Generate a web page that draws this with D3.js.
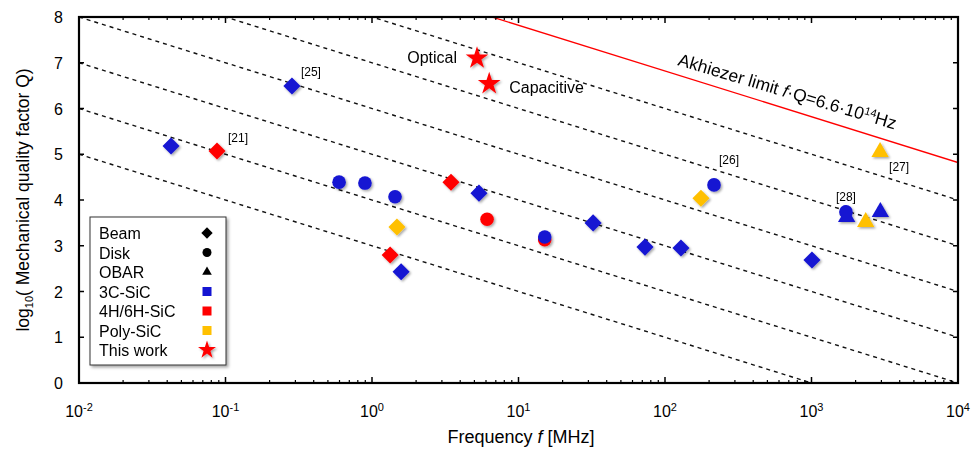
<!DOCTYPE html>
<html>
<head>
<meta charset="utf-8">
<script src="https://cdn.jsdelivr.net/npm/d3@7"></script>
<style>
  body { margin: 0; background: #fff; }
  svg { font-family: "Liberation Sans", Arial, sans-serif; }
</style>
</head>
<body>
<div id="chart"></div>
<script>
// frequency in MHz, log10(Q)
const beamF = [0.0425, 0.0875, 0.284, 3.46, 5.37, 1.48, 1.33, 1.58, 32.3, 73, 128.5, 1007, 176];
const beamQ = [5.18, 5.07, 6.49, 4.39, 4.15, 3.41, 2.80, 2.43, 3.50, 2.97, 2.95, 2.69, 4.04];
const beamC = ['3C', '4H', '3C', '4H', '3C', 'Poly', '4H', '3C', '3C', '3C', '3C', '3C', 'Poly'];

const diskF = [0.596, 0.895, 1.436, 6.1, 15.1, 15.1, 216, 1718];
const diskQ = [4.39, 4.37, 4.07, 3.58, 3.13, 3.19, 4.33, 3.74];
const diskC = ['3C', '3C', '3C', '4H', '4H', '3C', '3C', '3C'];

const obarF = [1738, 2344, 2951, 2938];
const obarQ = [3.63, 3.52, 3.74, 5.05];
const obarC = ['3C', 'Poly', '3C', 'Poly'];

const starF = [5.21, 6.31];
const starQ = [7.10, 6.54];
const starLabels = ['Optical', 'Capacitive'];

// constant f·Q lines (log10 of f·Q in MHz)
const fqLines = [3, 4, 5, 6, 7, 8];
const akhiezerFQ = 6.6e8; // MHz, = 6.6e14 Hz

const xTickExp = [-2, -1, 0, 1, 2, 3, 4];
const yTicks = [0, 1, 2, 3, 4, 5, 6, 7, 8];

const legendItems = ['Beam', 'Disk', 'OBAR', '3C-SiC', '4H/6H-SiC', 'Poly-SiC', 'This work'];

const colors = { '3C': '#1414d2', '4H': '#ff0000', 'Poly': '#ffc000' };

const width = 974, height = 450;
const margin = { left: 79, right: 16, top: 17, bottom: 67 };

const svg = d3.select('#chart').append('svg')
    .attr('width', width)
    .attr('height', height);

const defs = svg.append('defs');
const sh = defs.append('filter').attr('id', 'shadow')
    .attr('x', '-50%').attr('y', '-50%').attr('width', '200%').attr('height', '200%');
sh.append('feDropShadow').attr('dx', 1.5).attr('dy', 1.5)
    .attr('stdDeviation', 1).attr('flood-color', '#000').attr('flood-opacity', 0.35);
const sh2 = defs.append('filter').attr('id', 'boxshadow')
    .attr('x', '-20%').attr('y', '-20%').attr('width', '140%').attr('height', '140%');
sh2.append('feDropShadow').attr('dx', 2).attr('dy', 2)
    .attr('stdDeviation', 1.5).attr('flood-color', '#000').attr('flood-opacity', 0.35);

const x = d3.scaleLog().domain([1e-2, 1e4]).range([margin.left, width - margin.right]);
const y = d3.scaleLinear().domain([0, 8]).range([height - margin.bottom, margin.top]);

const x0 = x.range()[0], x1 = x.range()[1];
const y0 = y.range()[0], y1 = y.range()[1];

const clip = defs.append('clipPath').attr('id', 'plotclip');
clip.append('rect').attr('x', x0).attr('y', y1).attr('width', x1 - x0).attr('height', y0 - y1);

const plot = svg.append('g').attr('clip-path', 'url(#plotclip)');

// dashed f·Q = const lines
plot.selectAll('line.fq')
    .data(fqLines)
    .join('line')
    .classed('fq', true)
    .attr('x1', c => x(1e-2)).attr('y1', c => y(c + 2))
    .attr('x2', c => x(1e4)).attr('y2', c => y(c - 4))
    .attr('stroke', '#111')
    .attr('stroke-width', 1.4)
    .attr('stroke-dasharray', '4,4');

// Akhiezer limit
const ak = Math.log10(akhiezerFQ);
plot.append('line')
    .attr('x1', x(1e-2)).attr('y1', y(ak + 2))
    .attr('x2', x(1e4)).attr('y2', y(ak - 4))
    .attr('stroke', '#ff0000')
    .attr('stroke-width', 1.3);

// axes frame and ticks
const axes = svg.append('g');
const minor = [];
for (let e = -2; e < 4; e++) for (let m = 2; m <= 9; m++) minor.push(m * Math.pow(10, e));

axes.selectAll('line.minorB').data(minor).join('line')
    .attr('x1', d => x(d)).attr('x2', d => x(d)).attr('y1', y0).attr('y2', y0 - 3)
    .attr('stroke', '#000').attr('stroke-width', 1.2);
axes.selectAll('line.minorT').data(minor).join('line')
    .attr('x1', d => x(d)).attr('x2', d => x(d)).attr('y1', y1).attr('y2', y1 + 3)
    .attr('stroke', '#000').attr('stroke-width', 1.2);
axes.selectAll('line.majB').data(xTickExp).join('line')
    .attr('x1', d => x(Math.pow(10, d))).attr('x2', d => x(Math.pow(10, d)))
    .attr('y1', y0).attr('y2', y0 - 6)
    .attr('stroke', '#000').attr('stroke-width', 1.5);
axes.selectAll('line.majT').data(xTickExp).join('line')
    .attr('x1', d => x(Math.pow(10, d))).attr('x2', d => x(Math.pow(10, d)))
    .attr('y1', y1).attr('y2', y1 + 6)
    .attr('stroke', '#000').attr('stroke-width', 1.5);
axes.selectAll('line.yL').data(yTicks).join('line')
    .attr('x1', x0).attr('x2', x0 + 5).attr('y1', d => y(d)).attr('y2', d => y(d))
    .attr('stroke', '#000').attr('stroke-width', 1.5);
axes.selectAll('line.yR').data(yTicks).join('line')
    .attr('x1', x1).attr('x2', x1 - 5).attr('y1', d => y(d)).attr('y2', d => y(d))
    .attr('stroke', '#000').attr('stroke-width', 1.5);

axes.append('rect')
    .attr('x', x0).attr('y', y1).attr('width', x1 - x0).attr('height', y0 - y1)
    .attr('fill', 'none').attr('stroke', '#000').attr('stroke-width', 2.2);

// tick labels
axes.selectAll('text.yt').data(yTicks).join('text')
    .attr('x', x0 - 16).attr('y', d => y(d) + 6)
    .attr('text-anchor', 'end')
    .attr('font-size', 16)
    .text(d => d);

const xt = axes.selectAll('text.xt').data(xTickExp).join('text')
    .attr('x', d => x(Math.pow(10, d)))
    .attr('y', y0 + 34)
    .attr('text-anchor', 'middle')
    .attr('font-size', 16);
xt.append('tspan').text('10');
xt.append('tspan').attr('dy', -6).attr('font-size', 11).text(d => d < 0 ? '-' + (-d) : d);

// axis titles
const xl = svg.append('text')
    .attr('x', 521).attr('y', 443)
    .attr('text-anchor', 'middle').attr('font-size', 18);
xl.append('tspan').text('Frequency ');
xl.append('tspan').attr('font-style', 'italic').text('f');
xl.append('tspan').text(' [MHz]');

const yl = svg.append('text')
    .attr('transform', `translate(29,${(y0 + y1) / 2}) rotate(-90)`)
    .attr('text-anchor', 'middle').attr('font-size', 17.5);
yl.append('tspan').text('log');
yl.append('tspan').attr('font-size', 11).attr('dy', 4).text('10');
yl.append('tspan').attr('dy', -4).text('( Mechanical quality factor Q)');

// markers
const sym = (type, size) => d3.symbol().type(type).size(size)();
const marks = svg.append('g').attr('filter', 'url(#shadow)');

marks.selectAll('path.beam')
    .data(beamF.map((f, i) => ({ f, q: beamQ[i], c: beamC[i] })))
    .join('path')
    .attr('d', sym(d3.symbolSquare, 145))
    .attr('transform', d => `translate(${x(d.f)},${y(d.q)}) rotate(45)`)
    .attr('fill', d => colors[d.c]);

marks.selectAll('circle.disk')
    .data(diskF.map((f, i) => ({ f, q: diskQ[i], c: diskC[i] })))
    .join('circle')
    .attr('cx', d => x(d.f)).attr('cy', d => y(d.q)).attr('r', 6.8)
    .attr('fill', d => colors[d.c]);

marks.selectAll('path.obar')
    .data(obarF.map((f, i) => ({ f, q: obarQ[i], c: obarC[i] })))
    .join('path')
    .attr('d', sym(d3.symbolTriangle, 130))
    .attr('transform', d => `translate(${x(d.f)},${y(d.q)})`)
    .attr('fill', d => colors[d.c]);

marks.selectAll('path.star')
    .data(starF.map((f, i) => ({ f, q: starQ[i] })))
    .join('path')
    .attr('d', sym(d3.symbolStar, 160))
    .attr('transform', d => `translate(${x(d.f)},${y(d.q)})`)
    .attr('fill', '#ff0000');

// annotations
const ann = svg.append('g').attr('font-size', 16);
ann.append('text').attr('x', x(starF[0]) - 20).attr('y', y(starQ[0]) + 5)
    .attr('text-anchor', 'end').text(starLabels[0]);
ann.append('text').attr('x', x(starF[1]) + 20).attr('y', y(starQ[1]) + 9)
    .text(starLabels[1]);

const refs = ann.append('g').attr('font-size', 12);
refs.append('text').attr('x', x(beamF[2]) + 9).attr('y', y(beamQ[2]) - 10).text('[25]');
refs.append('text').attr('x', x(beamF[1]) + 11).attr('y', y(beamQ[1]) - 9).text('[21]');
refs.append('text').attr('x', x(diskF[6]) + 5).attr('y', y(diskQ[6]) - 21).text('[26]');
refs.append('text').attr('x', x(diskF[7]) - 10).attr('y', y(diskQ[7]) - 11).text('[28]');
refs.append('text').attr('x', x(obarF[3]) + 9).attr('y', y(obarQ[3]) + 19).text('[27]');

const akt = ann.append('text')
    .attr('transform', `translate(677,65) rotate(16.5)`)
    .attr('font-size', 17.5);
akt.append('tspan').text('Akhiezer limit ');
akt.append('tspan').attr('font-style', 'italic').text('f');
akt.append('tspan').text('·Q=6.6·10');
akt.append('tspan').attr('dy', -6).attr('font-size', 11).text('14');
akt.append('tspan').attr('dy', 6).text('Hz');

// legend
const lg = svg.append('g').attr('transform', 'translate(90,217)');
lg.append('rect').attr('width', 136).attr('height', 148)
    .attr('fill', '#fff').attr('stroke', '#333').attr('stroke-width', 1)
    .attr('filter', 'url(#boxshadow)');
const rowY = i => 16 + i * 19.5;
lg.selectAll('text').data(legendItems).join('text')
    .attr('x', 9).attr('y', (d, i) => rowY(i) + 6)
    .attr('font-size', 16).text(d => d);
const ls = lg.append('g').attr('transform', 'translate(117,0)');
ls.append('path').attr('d', sym(d3.symbolSquare, 64))
    .attr('transform', `translate(0,${rowY(0)}) rotate(45)`).attr('fill', '#000');
ls.append('circle').attr('cy', rowY(1)).attr('r', 4.5).attr('fill', '#000');
ls.append('path').attr('d', sym(d3.symbolTriangle, 40))
    .attr('transform', `translate(0,${rowY(2)})`).attr('fill', '#000');
['3C', '4H', 'Poly'].forEach((c, i) => {
    ls.append('rect').attr('x', -4.5).attr('y', rowY(3 + i) - 4.5)
        .attr('width', 9).attr('height', 9).attr('fill', colors[c]);
});
ls.append('path').attr('d', sym(d3.symbolStar, 100))
    .attr('transform', `translate(0,${rowY(6)})`).attr('fill', '#ff0000')
    .attr('filter', 'url(#shadow)');
</script>
</body>
</html>
